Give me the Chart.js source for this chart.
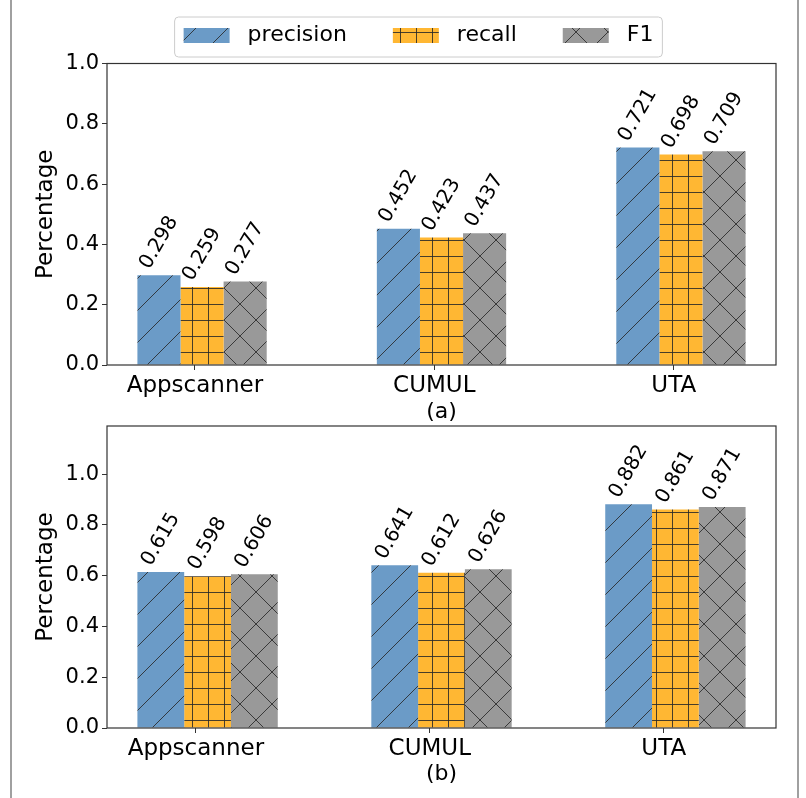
<!DOCTYPE html>
<html>
<head>
<meta charset="utf-8">
<script src="https://cdn.jsdelivr.net/npm/chart.js@4.4.0/dist/chart.umd.min.js"></script>
<style>
  html, body { margin: 0; padding: 0; background: #fff; }
  #wrap { position: relative; width: 806px; height: 798px; overflow: hidden; background: #fff; }
  #c1 { position: absolute; left: 0; top: 0; }
  #c2 { position: absolute; left: 0; top: 400px; }
  #frame { position: absolute; left: 10px; top: 0; width: 785px; height: 798px;
           border-left: 2px solid #a0a0a0; border-right: 2px solid #a0a0a0; pointer-events: none; }
</style>
</head>
<body>
<div id="wrap">
  <canvas id="c1" width="806" height="430"></canvas>
  <canvas id="c2" width="806" height="398"></canvas>
  <div id="frame"></div>
</div>
<script>
var categories = ["Appscanner", "CUMUL", "UTA"];
var seriesNames = ["precision", "recall", "F1"];

// panel (a)
var precisionA = [0.298, 0.452, 0.721];
var recallA = [0.259, 0.423, 0.698];
var f1A = [0.277, 0.437, 0.709];

// panel (b)
var precisionB = [0.615, 0.641, 0.882];
var recallB = [0.598, 0.612, 0.861];
var f1B = [0.606, 0.626, 0.871];

var yTicks = [0.0, 0.2, 0.4, 0.6, 0.8, 1.0];

Chart.defaults.font.family = '"DejaVu Sans", sans-serif';
Chart.defaults.color = '#000';

// matplotlib-like hatch fills
function hatch(ctx, bg, kind) {
  var s = kind === '+' ? 16 : 32;
  var c = document.createElement('canvas');
  c.width = s; c.height = s;
  var g = c.getContext('2d');
  g.fillStyle = bg;
  g.fillRect(0, 0, s, s);
  g.strokeStyle = 'rgba(40,40,40,0.85)';
  g.lineWidth = 1;
  g.beginPath();
  if (kind === '/' || kind === 'x') {
    g.moveTo(-2, s + 2); g.lineTo(s + 2, -2);
  }
  if (kind === 'x') {
    g.moveTo(-2, -2); g.lineTo(s + 2, s + 2);
  }
  if (kind === '+') {
    g.moveTo(0.5, 0); g.lineTo(0.5, s);
    g.moveTo(0, 0.5); g.lineTo(s, 0.5);
  }
  g.stroke();
  return ctx.createPattern(c, 'repeat');
}

var valueLabels = {
  id: 'valueLabels',
  afterDatasetsDraw: function(chart) {
    var ctx = chart.ctx;
    var ang = 60 * Math.PI / 180;
    ctx.save();
    ctx.font = '20px "DejaVu Sans"';
    ctx.fillStyle = '#000';
    ctx.textAlign = 'center';
    ctx.textBaseline = 'middle';
    chart.data.datasets.forEach(function(ds, di) {
      chart.getDatasetMeta(di).data.forEach(function(bar, i) {
        var txt = ds.data[i].y.toFixed(3);
        var w = ctx.measureText(txt).width, h = 23;
        var half = (w * Math.sin(ang) + h * Math.cos(ang)) / 2;
        ctx.save();
        ctx.translate(bar.x, bar.y - 2 - half);
        ctx.rotate(-ang);
        ctx.fillText(txt, 0, 0);
        ctx.restore();
      });
    });
    // axes box
    var a = chart.chartArea;
    ctx.strokeStyle = '#333';
    ctx.lineWidth = 1.2;
    ctx.strokeRect(a.left, a.top, a.right - a.left, a.bottom - a.top);
    ctx.restore();
  }
};

var legendFrame = {
  id: 'legendFrame',
  afterDraw: function(chart) {
    var boxes = chart.legend && chart.legend.legendHitBoxes;
    if (!chart.options.plugins.legend.display || !boxes || !boxes.length) return;
    var l = Math.min.apply(null, boxes.map(function(b) { return b.left; }));
    var r = Math.max.apply(null, boxes.map(function(b) { return b.left + b.width; }));
    var t = boxes[0].top, b = boxes[0].top + boxes[0].height;
    var ctx = chart.ctx;
    ctx.save();
    ctx.strokeStyle = '#cccccc';
    ctx.lineWidth = 1;
    ctx.beginPath();
    ctx.roundRect(l - 9, t - 7.5, r - l + 18, b - t + 18, 4);
    ctx.stroke();
    ctx.restore();
  }
};

function buildChart(canvasId, values, panel) {
  var ctx = document.getElementById(canvasId).getContext('2d');
  var fills = [hatch(ctx, '#6b9bc7', '/'), hatch(ctx, '#ffb733', '+'), hatch(ctx, '#999999', 'x')];
  var datasets = values.map(function(vals, k) {
    return {
      label: ' ' + seriesNames[k],
      data: categories.map(function(c, i) { return { x: i, y: vals[i] }; }),
      backgroundColor: fills[k],
      borderWidth: 0,
      categoryPercentage: panel.groupWidth,
      barPercentage: 1.0
    };
  });
  var tickPos = categories.map(function(c, i) { return i + panel.tickShift; });

  return new Chart(ctx, {
    type: 'bar',
    data: { datasets: datasets },
    plugins: [valueLabels, legendFrame],
    options: {
      responsive: false,
      animation: false,
      layout: { padding: { left: 31, right: 0, top: panel.padTop, bottom: 0 } },
      plugins: {
        legend: {
          display: panel.legend,
          position: 'top',
          labels: { font: { size: 22 }, color: '#000', boxWidth: 46, boxHeight: 15, padding: 46 }
        },
        subtitle: {
          display: panel.legend,
          text: '',
          weight: 500,
          font: { size: 1 },
          padding: { top: 0, bottom: 5.8 }
        },
        tooltip: { enabled: false }
      },
      scales: {
        x: {
          type: 'linear',
          min: panel.xMin,
          max: panel.xMax,
          offset: false,
          afterBuildTicks: function(scale) {
            scale.ticks = tickPos.map(function(v) { return { value: v }; });
          },
          afterFit: function(scale) { scale.height = panel.xHeight; },
          ticks: {
            autoSkip: false, maxRotation: 0, minRotation: 0, padding: 2,
            font: { size: 23 }, color: '#000',
            callback: function(v, i) { return categories[i]; }
          },
          grid: { offset: false, drawOnChartArea: false, drawTicks: true, tickLength: 5, color: '#333' },
          border: { display: false },
          title: { display: true, text: panel.title, font: { size: 22 }, color: '#000',
                   padding: { top: 0, bottom: panel.titlePad } }
        },
        y: {
          type: 'linear',
          min: 0,
          max: panel.yMax,
          afterBuildTicks: function(scale) {
            scale.ticks = yTicks.map(function(v) { return { value: v }; });
          },
          afterFit: function(scale) { scale.width = 76; },
          ticks: { font: { size: 21 }, color: '#000', padding: 3,
                   callback: function(v) { return v.toFixed(1); } },
          grid: { drawOnChartArea: false, drawTicks: true, tickLength: 5, color: '#333' },
          border: { display: false },
          title: { display: true, text: 'Percentage', font: { size: 23 }, color: '#000',
                   padding: { top: 1, bottom: 0 } }
        },
        yR: {
          type: 'linear',
          position: 'right',
          display: true,
          ticks: { display: false },
          grid: { display: false },
          border: { display: false },
          afterFit: function(scale) { scale.width = 30; }
        }
      }
    }
  });
}

buildChart('c1', [precisionA, recallA, f1A], {
  groupWidth: 0.54, tickShift: -0.03, xMin: -0.397, xMax: 2.397, yMax: 1.0,
  legend: true, padTop: -21.5, xHeight: 65, title: '(a)', titlePad: 5
});
buildChart('c2', [precisionB, recallB, f1B], {
  groupWidth: 0.6, tickShift: -0.05, xMin: -0.43, xMax: 2.43, yMax: 1.19,
  legend: false, padTop: 26, xHeight: 70, title: '(b)', titlePad: 11
});
</script>
</body>
</html>
